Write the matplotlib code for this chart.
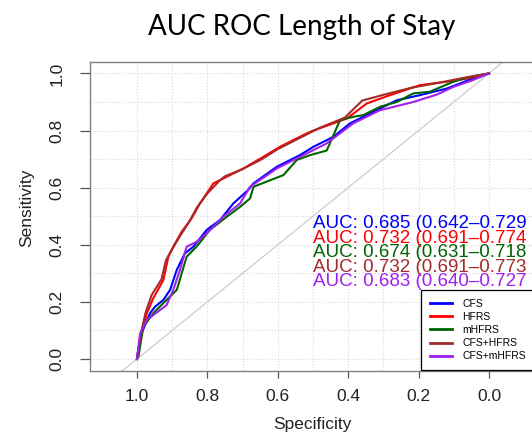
import matplotlib
matplotlib.use("Agg")
import matplotlib.pyplot as plt
from matplotlib.lines import Line2D
import numpy as np

# ---- data ----
labels = ["CFS", "HFRS", "mHFRS", "CFS+HFRS", "CFS+mHFRS"]
colors = ["#0000FF", "#FF0000", "#006400", "#A52A2A", "#A020F0"]
auc_texts = ["AUC: 0.685 (0.642\u20130.729", "AUC: 0.732 (0.691\u20130.774",
             "AUC: 0.674 (0.631\u20130.718", "AUC: 0.732 (0.691\u20130.773",
             "AUC: 0.683 (0.640\u20130.727"]

cfs_spec = [1.0, 1.0, 0.987, 0.963, 0.949, 0.925, 0.906, 0.887, 0.864, 0.84, 0.802, 0.764,
            0.726, 0.684, 0.669, 0.603, 0.537, 0.499, 0.442, 0.395, 0.31, 0.262, 0.196,
            0.12, 0.082, 0.035, 0.0]
cfs_sens = [0.0, 0.008, 0.09, 0.16, 0.183, 0.207, 0.242, 0.312, 0.37, 0.393, 0.452, 0.487,
            0.545, 0.592, 0.615, 0.673, 0.714, 0.743, 0.778, 0.825, 0.877, 0.906, 0.924,
            0.947, 0.965, 0.988, 1.0]

hfrs_spec = [1.0, 0.991, 0.972, 0.954, 0.925, 0.911, 0.897, 0.873, 0.845, 0.821, 0.783,
             0.755, 0.698, 0.641, 0.594, 0.518, 0.499, 0.404, 0.347, 0.281, 0.196, 0.12,
             0.063, 0.0]
hfrs_sens = [0.0, 0.078, 0.16, 0.212, 0.277, 0.358, 0.393, 0.446, 0.492, 0.545, 0.615,
             0.632, 0.667, 0.708, 0.743, 0.79, 0.80, 0.842, 0.895, 0.924, 0.959, 0.971,
             0.982, 1.0]

mhfrs_spec = [1.0, 0.996, 0.982, 0.954, 0.916, 0.887, 0.873, 0.859, 0.831, 0.793, 0.745,
              0.707, 0.679, 0.669, 0.632, 0.584, 0.546, 0.508, 0.461, 0.423, 0.386, 0.357,
              0.31, 0.262, 0.215, 0.168, 0.101, 0.054, 0.0]
mhfrs_sens = [0.0, 0.008, 0.113, 0.16, 0.207, 0.242, 0.30, 0.358, 0.393, 0.452, 0.498,
              0.533, 0.562, 0.603, 0.621, 0.644, 0.697, 0.714, 0.73, 0.837, 0.848, 0.854,
              0.883, 0.90, 0.93, 0.936, 0.971, 0.988, 1.0]

cfshfrs_spec = [1.0, 0.989, 0.975, 0.958, 0.93, 0.918, 0.9, 0.878, 0.852, 0.83, 0.8, 0.765,
                0.75, 0.70, 0.645, 0.60, 0.52, 0.48, 0.41, 0.36, 0.30, 0.22, 0.14, 0.07, 0.0]
cfshfrs_sens = [0.0, 0.09, 0.165, 0.225, 0.28, 0.345, 0.385, 0.43, 0.48, 0.53, 0.58, 0.625,
                0.64, 0.665, 0.70, 0.735, 0.785, 0.81, 0.845, 0.905, 0.925, 0.95, 0.968,
                0.985, 1.0]

cfsm_spec = [1.0, 0.991, 0.972, 0.935, 0.916, 0.897, 0.878, 0.859, 0.831, 0.802, 0.755,
             0.707, 0.679, 0.603, 0.537, 0.461, 0.386, 0.31, 0.215, 0.148, 0.101, 0.045, 0.0]
cfsm_sens = [0.0, 0.09, 0.137, 0.171, 0.189, 0.242, 0.312, 0.393, 0.41, 0.44, 0.498,
             0.545, 0.603, 0.667, 0.708, 0.755, 0.825, 0.871, 0.90, 0.926, 0.953, 0.977, 1.0]

series = [(cfs_spec, cfs_sens), (hfrs_spec, hfrs_sens), (mhfrs_spec, mhfrs_sens),
          (cfshfrs_spec, cfshfrs_sens), (cfsm_spec, cfsm_sens)]

xticks = [1.0, 0.8, 0.6, 0.4, 0.2, 0.0]
yticks = [0.0, 0.2, 0.4, 0.6, 0.8, 1.0]
grid_vals = np.round(np.arange(0, 1.01, 0.1), 1)

# ---- figure ----
W, H = 532, 436
fig = plt.figure(figsize=(W / 100, H / 100), dpi=100)
plt.rcParams['font.family'] = ['Liberation Sans', 'DejaVu Sans']

ax = fig.add_axes([90 / W, 1 - 371 / H, 446 / W, 309 / H])
ax.set_xlim(1.1335, -0.1335)
ax.set_ylim(-0.042, 1.04)

for g in grid_vals:
    ax.axvline(g, color="#dcdcdc", lw=0.9, ls=(0, (1, 1.5)), zorder=0)
    ax.axhline(g, color="#dcdcdc", lw=0.9, ls=(0, (1, 1.5)), zorder=0)

ax.axline((1, 0), (0, 1), color="#cccccc", lw=0.9, zorder=1)

for (sp, se), c in zip(series, colors):
    ax.plot(sp, se, color=c, lw=1.5, zorder=3)

for s in ax.spines.values():
    s.set_color("#808080")
    s.set_linewidth(1.0)

ax.set_xticks(xticks)
ax.set_xticklabels([f"{v:.1f}" for v in xticks])
ax.set_yticks(yticks)
ax.set_yticklabels([f"{v:.1f}" for v in yticks], rotation=90, va="center")
ax.tick_params(axis="x", length=5, width=0.9, color="#555555", pad=8, labelsize=12.5,
               labelcolor="#222222")
ax.tick_params(axis="y", length=7.5, width=0.9, color="#555555", pad=11, labelsize=12.5,
               labelcolor="#222222")

ax.set_xlabel("Specificity", fontsize=12.5, color="#222222")
ax.xaxis.set_label_coords(0.498, -0.149)
ax.xaxis.label.set_va("top")
ax.set_ylabel("Sensitivity", fontsize=12.5, color="#222222")
ax.yaxis.set_label_coords(-0.1256, 0.5275)

# AUC texts
auc_y = [0.4575, 0.407, 0.357, 0.306, 0.256]
for t, yv, c in zip(auc_texts, auc_y, colors):
    ax.text(0.5, yv, t, color=c, fontsize=13.5, va="baseline", ha="left", zorder=4,
            clip_on=False)

handles = [Line2D([0], [0], color=c, lw=2) for c in colors]
leg = ax.legend(handles, labels, loc="upper left", bbox_to_anchor=(421 / W, 1 - 290 / H),
                bbox_transform=fig.transFigure, borderaxespad=0, fontsize=7.5,
                handlelength=2.1, handletextpad=1.0, borderpad=0.85, labelspacing=0.3,
                fancybox=False, framealpha=1, edgecolor="black")
leg.get_frame().set_linewidth(0.9)

fig.text(301.5 / W, 1 - 35 / H, "AUC ROC Length of Stay", fontsize=20,
         family=["Lato", "DejaVu Sans"], ha="center", va="baseline", color="black")

fig.savefig("out.png", dpi=100)
